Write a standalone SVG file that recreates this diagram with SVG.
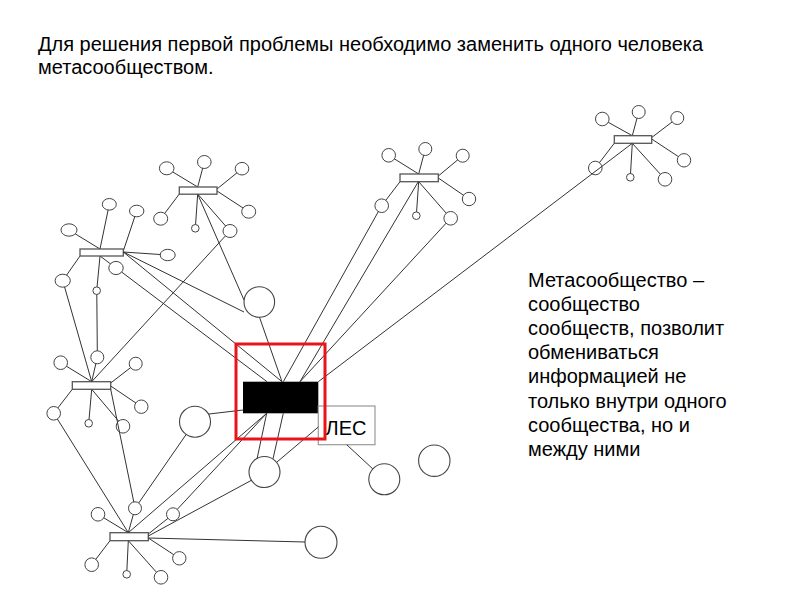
<svg xmlns="http://www.w3.org/2000/svg" width="800" height="600" viewBox="0 0 800 600">
<style>
  .t { font-family: "Liberation Sans", Arial, sans-serif; font-size: 20px; fill: #000; }
  .bar { fill: #fff; stroke: #555; stroke-width: 1.3; }
  .c { fill: #fff; stroke: #444; stroke-width: 1; }
  .big { fill: #fff; stroke: #444; stroke-width: 1.1; }
  .sp { stroke: #333; stroke-width: 1; fill: none; }
  .ln { stroke: #333; stroke-width: 1; fill: none; }
</style>
<rect width="800" height="600" fill="#fff"/>

<g id="title">
  <text class="t" x="38" y="51">Для решения первой проблемы необходимо заменить одного человека</text>
  <text class="t" x="38" y="74">метасообществом.</text>
</g>

<g id="note">
  <text class="t" x="528" y="287">Метасообщество –</text>
  <text class="t" x="528" y="311">сообщество</text>
  <text class="t" x="528" y="335">сообществ, позволит</text>
  <text class="t" x="528" y="359">обмениваться</text>
  <text class="t" x="528" y="383">информацией не</text>
  <text class="t" x="528" y="408">только внутри одного</text>
  <text class="t" x="528" y="432">сообщества, но и</text>
  <text class="t" x="528" y="456">между ними</text>
</g>

<g id="clusterA">
  <g class="sp">
    <line x1="100" y1="249" x2="109.3" y2="204.3"/>
    <line x1="123.3" y1="251" x2="136.7" y2="211"/>
    <line x1="100" y1="249" x2="69" y2="230"/>
    <line x1="123.3" y1="252" x2="167.7" y2="255"/>
    <line x1="80" y1="256" x2="62.7" y2="280.7"/>
    <line x1="100" y1="256" x2="96.7" y2="290.7"/>
    <line x1="100" y1="256" x2="116" y2="268"/>
  </g>
  <rect class="bar" x="80" y="249" width="43.3" height="7"/>
  <ellipse class="c" cx="109.3" cy="204.3" rx="7" ry="5.8"/>
  <ellipse class="c" cx="136.7" cy="211" rx="7.2" ry="5.8"/>
  <ellipse class="c" cx="69" cy="230" rx="8" ry="6.2"/>
  <ellipse class="c" cx="167.7" cy="255" rx="7.5" ry="5.7"/>
  <ellipse class="c" cx="62.7" cy="280.7" rx="7.6" ry="6.5"/>
  <circle class="c" cx="96.7" cy="290.7" r="3.8"/>
  <ellipse class="c" cx="116" cy="268" rx="7.2" ry="6.6"/>
</g>

<g id="clusterB">
  <g class="sp">
    <line x1="197.7" y1="187" x2="166.7" y2="168.3"/>
    <line x1="197.7" y1="187" x2="204.3" y2="162"/>
    <line x1="217" y1="189" x2="242" y2="168.7"/>
    <line x1="217" y1="191" x2="248.7" y2="211.7"/>
    <line x1="179.3" y1="194" x2="160.7" y2="218.7"/>
    <line x1="197.7" y1="194" x2="195.3" y2="228.3"/>
    <line x1="197.7" y1="194" x2="230" y2="231"/>
  </g>
  <rect class="bar" x="179.3" y="187" width="37.7" height="7.2"/>
  <ellipse class="c" cx="166.7" cy="168.3" rx="7.3" ry="6.5"/>
  <ellipse class="c" cx="204.3" cy="162" rx="6.8" ry="6.5"/>
  <ellipse class="c" cx="242" cy="168.7" rx="6.8" ry="6.3"/>
  <ellipse class="c" cx="248.7" cy="211.7" rx="7" ry="6.5"/>
  <ellipse class="c" cx="160.7" cy="218.7" rx="7" ry="6.5"/>
  <circle class="c" cx="195.3" cy="228.3" r="3.8"/>
  <ellipse class="c" cx="230" cy="231" rx="7" ry="6.5"/>
</g>

<g id="clusterC">
  <g class="sp">
    <line x1="418.7" y1="174" x2="388.7" y2="155.3"/>
    <line x1="418.7" y1="174" x2="425.3" y2="149"/>
    <line x1="438.3" y1="176" x2="462.7" y2="155.7"/>
    <line x1="438.3" y1="178" x2="469" y2="199"/>
    <line x1="400" y1="181.7" x2="381.7" y2="205.7"/>
    <line x1="418.7" y1="181.7" x2="416.3" y2="215.7"/>
    <line x1="418.7" y1="181.7" x2="450.7" y2="218.3"/>
  </g>
  <rect class="bar" x="400" y="174" width="38.3" height="7.7"/>
  <circle class="c" cx="388.7" cy="155.3" r="6.8"/>
  <circle class="c" cx="425.3" cy="149" r="6.5"/>
  <circle class="c" cx="462.7" cy="155.7" r="6.5"/>
  <circle class="c" cx="469" cy="199" r="6.7"/>
  <circle class="c" cx="381.7" cy="205.7" r="6.8"/>
  <circle class="c" cx="416.3" cy="215.7" r="3.8"/>
  <circle class="c" cx="450.7" cy="218.3" r="6.8"/>
</g>

<g id="clusterD">
  <g class="sp">
    <line x1="632.3" y1="135.7" x2="602.3" y2="119"/>
    <line x1="632.3" y1="135.7" x2="638.7" y2="112"/>
    <line x1="651.7" y1="137.5" x2="677.3" y2="118"/>
    <line x1="651.7" y1="139" x2="684" y2="160.3"/>
    <line x1="614.3" y1="143.3" x2="595.3" y2="168"/>
    <line x1="632.3" y1="143.3" x2="630.3" y2="177.3"/>
    <line x1="632.3" y1="143.3" x2="665" y2="179.3"/>
  </g>
  <rect class="bar" x="614.3" y="135.7" width="37.4" height="7.6"/>
  <circle class="c" cx="602.3" cy="119" r="6.8"/>
  <circle class="c" cx="638.7" cy="112" r="6.5"/>
  <circle class="c" cx="677.3" cy="118" r="6.5"/>
  <circle class="c" cx="684" cy="160.3" r="6.7"/>
  <circle class="c" cx="595.3" cy="168" r="6.8"/>
  <circle class="c" cx="630.3" cy="177.3" r="3.8"/>
  <circle class="c" cx="665" cy="179.3" r="6.8"/>
</g>

<g id="clusterE">
  <g class="sp">
    <line x1="91.7" y1="381.7" x2="60.7" y2="362.7"/>
    <line x1="91.7" y1="381.7" x2="97.3" y2="357.3"/>
    <line x1="110.7" y1="383" x2="135.7" y2="363.7"/>
    <line x1="110.7" y1="386" x2="141.3" y2="406.7"/>
    <line x1="72.3" y1="389.3" x2="53.7" y2="413.3"/>
    <line x1="91.7" y1="389.3" x2="88.7" y2="423.3"/>
    <line x1="91.7" y1="389.3" x2="123" y2="426.3"/>
  </g>
  <rect class="bar" x="72.3" y="381.7" width="38.4" height="7.6"/>
  <circle class="c" cx="60.7" cy="362.7" r="6.8"/>
  <circle class="c" cx="97.3" cy="357.3" r="6.5"/>
  <circle class="c" cx="135.7" cy="363.7" r="6.5"/>
  <circle class="c" cx="141.3" cy="406.7" r="6.7"/>
  <circle class="c" cx="53.7" cy="413.3" r="6.8"/>
  <circle class="c" cx="88.7" cy="423.3" r="3.8"/>
  <circle class="c" cx="123" cy="426.3" r="6.8"/>
</g>

<g id="clusterF">
  <g class="sp">
    <line x1="128.3" y1="532.7" x2="98" y2="514.3"/>
    <line x1="128.3" y1="532.7" x2="135" y2="508.3"/>
    <line x1="148.3" y1="534" x2="173" y2="514.3"/>
    <line x1="148.3" y1="538" x2="179.3" y2="558.3"/>
    <line x1="110" y1="540.7" x2="91.7" y2="564.7"/>
    <line x1="128.3" y1="540.7" x2="126.7" y2="574.3"/>
    <line x1="128.3" y1="540.7" x2="161" y2="577.3"/>
  </g>
  <rect class="bar" x="110" y="532.7" width="38.3" height="8"/>
  <circle class="c" cx="98" cy="514.3" r="6.8"/>
  <circle class="c" cx="135" cy="508.3" r="6.5"/>
  <circle class="c" cx="173" cy="514.3" r="6.5"/>
  <circle class="c" cx="179.3" cy="558.3" r="6.7"/>
  <circle class="c" cx="91.7" cy="564.7" r="6.8"/>
  <circle class="c" cx="126.7" cy="574.3" r="3.8"/>
  <circle class="c" cx="161" cy="577.3" r="6.8"/>
</g>

<g id="circle-upper"><circle class="big" cx="259.3" cy="302" r="15.3"/></g>
<g id="circle-left"><circle class="big" cx="195" cy="421.7" r="15.5"/></g>
<g id="circle-lower"><circle class="big" cx="264.5" cy="472" r="15.5"/></g>
<g id="circle-les"><circle class="big" cx="384.3" cy="479.3" r="15.5"/></g>
<g id="circle-right"><circle class="big" cx="434.3" cy="460.7" r="15.7"/></g>
<g id="circle-bottom"><circle class="big" cx="321" cy="542.3" r="16"/></g>

<g id="center">
  <rect x="243" y="381.7" width="75.3" height="31.6" fill="#000"/>
</g>

<g id="les">
  <rect x="318.3" y="406" width="56.7" height="38.7" fill="#fff" stroke="#999" stroke-width="1.2"/>
  <text x="346" y="435" text-anchor="middle" font-family="Liberation Sans, Arial, sans-serif" font-size="20">ЛЕС</text>
</g>

<g id="connectors" class="ln">
  <line x1="123.3" y1="252" x2="282" y2="381.7"/>
  <line x1="123.3" y1="252" x2="244" y2="312"/>
  <line x1="197.7" y1="194.2" x2="244" y2="300"/>
  <line x1="259.5" y1="317.3" x2="282" y2="381.7"/>
  <line x1="121.6" y1="272" x2="267" y2="381.7"/>
  <line x1="378.4" y1="211.5" x2="283.3" y2="381.7"/>
  <line x1="418.3" y1="181.7" x2="300" y2="381.7"/>
  <line x1="446.1" y1="223.2" x2="300" y2="381.7"/>
  <line x1="632.3" y1="143.3" x2="318.3" y2="381.7"/>
  <line x1="225.2" y1="236.1" x2="91.7" y2="381.7"/>
  <line x1="64.6" y1="287" x2="91.7" y2="381.7"/>
  <line x1="96.8" y1="294.5" x2="97.3" y2="350.8"/>
  <line x1="110.7" y1="389.3" x2="133.8" y2="502"/>
  <line x1="57.4" y1="419" x2="128.3" y2="532.7"/>
  <line x1="186.2" y1="434.4" x2="138.7" y2="503"/>
  <line x1="209" y1="414" x2="243" y2="410"/>
  <line x1="128.3" y1="532.7" x2="266.7" y2="413.3"/>
  <line x1="177.4" y1="509.2" x2="266.7" y2="413.3"/>
  <line x1="148.3" y1="536" x2="252" y2="480"/>
  <line x1="148.3" y1="538" x2="305" y2="542"/>
  <line x1="257" y1="459" x2="266.7" y2="413.3"/>
  <line x1="273" y1="458.8" x2="283.3" y2="413.3"/>
  <line x1="277" y1="462" x2="318.3" y2="427"/>
  <line x1="346.7" y1="444.7" x2="372.8" y2="468.9"/>
</g>

<g id="highlight">
  <rect x="236" y="344" width="89" height="95" fill="none" stroke="#e8141a" stroke-width="3"/>
</g>
</svg>
